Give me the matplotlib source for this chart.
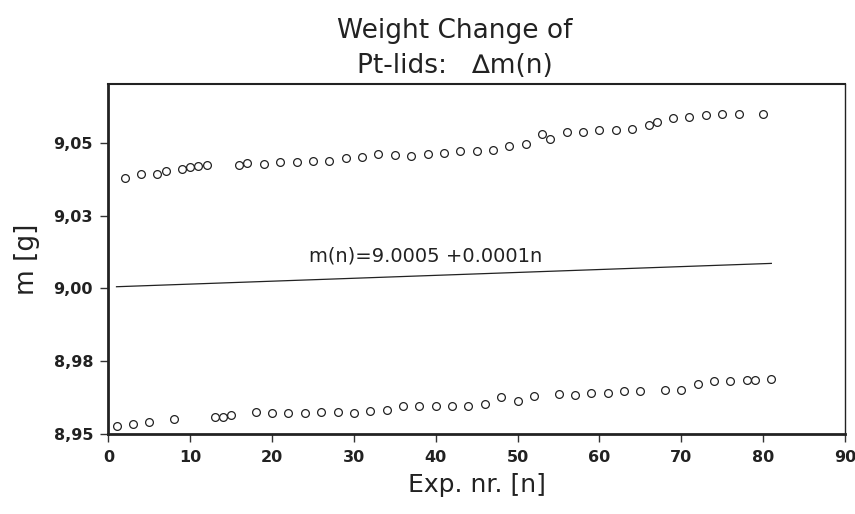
import numpy as np
import matplotlib
matplotlib.use("Agg")
import matplotlib.pyplot as plt
from matplotlib.ticker import FixedLocator, FixedFormatter

# upper set of lids: experiment number and mass [g]
n_upper = [2, 4, 6, 7, 9, 10, 11, 12, 16, 17, 19, 21, 23, 25, 27, 29, 31, 33,
           35, 37, 39, 41, 43, 45, 47, 49, 51, 53, 54, 56, 58, 60, 62, 64, 66,
           67, 69, 71, 73, 75, 77, 80]
m_upper = [9.0378, 9.0393, 9.0394, 9.0402, 9.0409, 9.0417, 9.0419, 9.0422,
           9.0422, 9.0431, 9.0428, 9.0434, 9.0435, 9.0436, 9.0437, 9.0449,
           9.0450, 9.0462, 9.0459, 9.0453, 9.0461, 9.0465, 9.0471, 9.0472,
           9.0474, 9.0489, 9.0497, 9.0531, 9.0512, 9.0537, 9.0538, 9.0544,
           9.0545, 9.0547, 9.0562, 9.0571, 9.0585, 9.0588, 9.0594, 9.0597,
           9.0599, 9.0599]

# lower set of lids
n_lower = [1, 3, 5, 8, 13, 14, 15, 18, 20, 22, 24, 26, 28, 30, 32, 34, 36, 38,
           40, 42, 44, 46, 48, 50, 52, 55, 57, 59, 61, 63, 65, 68, 70, 72, 74,
           76, 78, 79, 81]
m_lower = [8.9527, 8.9535, 8.9541, 8.9551, 8.9560, 8.9560, 8.9565, 8.9576,
           8.9573, 8.9573, 8.9573, 8.9576, 8.9576, 8.9574, 8.9581, 8.9583,
           8.9597, 8.9598, 8.9598, 8.9598, 8.9597, 8.9603, 8.9627, 8.9613,
           8.9630, 8.9638, 8.9635, 8.9641, 8.9642, 8.9648, 8.9648, 8.9653,
           8.9653, 8.9674, 8.9683, 8.9684, 8.9687, 8.9687, 8.9690]

# fitted line m(n) = a + b*n
fit_a = 9.0005
fit_b = 0.0001
fit_n = [1, 81]

x_ticks = [0, 10, 20, 30, 40, 50, 60, 70, 80, 90]
y_ticks = [8.95, 8.975, 9.0, 9.025, 9.05]
y_tick_labels = ["8,95", "8,98", "9,00", "9,03", "9,05"]

title_font = ["DejaVu Sans"]
ink = "#222222"

fig = plt.figure(figsize=(8.55, 5.14), dpi=100)
ax = fig.add_axes([0.1267, 0.155, 0.8616, 0.681])

ax.plot(n_upper, m_upper, "o", ms=5.6, mfc="white", mec=ink, mew=0.9)
ax.plot(n_lower, m_lower, "o", ms=5.6, mfc="white", mec=ink, mew=0.9)

fn = np.array(fit_n)
ax.plot(fn, fit_a + fit_b * fn, color=ink, lw=0.9)
ax.text(24.5, 9.0093, "m(n)=9.0005 +0.0001n", fontsize=14,
        family=title_font, color=ink)

ax.set_xlim(0, 90)
ax.set_ylim(8.95, 9.07)
ax.xaxis.set_major_locator(FixedLocator(x_ticks))
ax.yaxis.set_major_locator(FixedLocator(y_ticks))
ax.yaxis.set_major_formatter(FixedFormatter(y_tick_labels))
ax.tick_params(direction="out", length=6, width=1, color="#333333",
               labelsize=11.5, pad=5)
for lab in ax.get_xticklabels() + ax.get_yticklabels():
    lab.set_fontfamily("DejaVu Sans")
    lab.set_fontweight("bold")
    lab.set_color(ink)

ax.spines["left"].set_linewidth(2.0)
ax.spines["bottom"].set_linewidth(2.0)
ax.spines["top"].set_linewidth(1.5)
ax.spines["right"].set_linewidth(1.0)
for s in ax.spines.values():
    s.set_color(ink)

ax.set_xlabel("Exp. nr. [n]", fontsize=18, family=title_font,
              color=ink, labelpad=6)
ax.set_ylabel("m [g]", fontsize=19, family=title_font,
              color=ink, labelpad=10)
fig.text(0.532, 0.94, "Weight Change of", ha="center", va="center",
         fontsize=19, family=title_font, color=ink)
fig.text(0.532, 0.872, "Pt-lids:   \u2206m(n)", ha="center", va="center",
         fontsize=19, family=title_font, color=ink)

fig.savefig("out.png", dpi=100)
